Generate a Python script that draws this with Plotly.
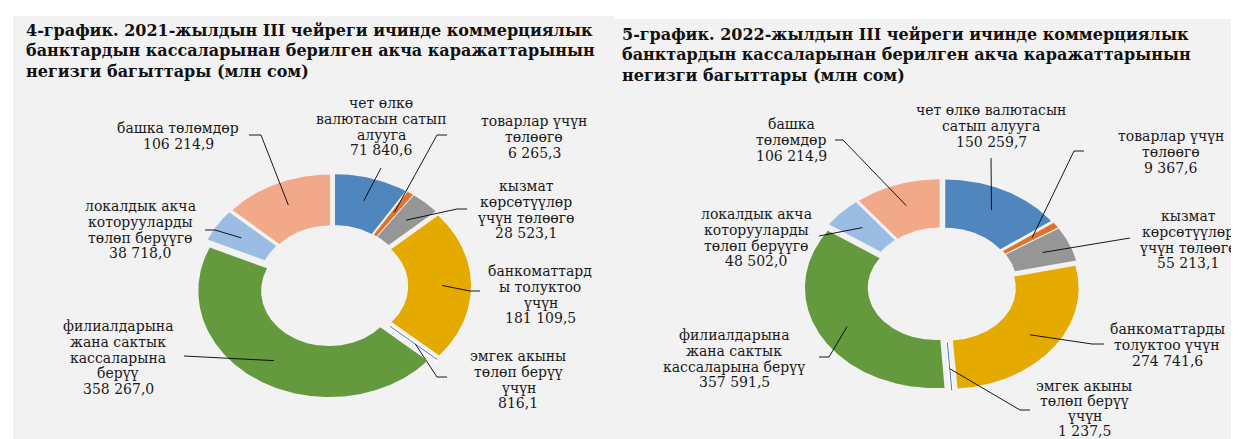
import numpy as np
import plotly.graph_objects as go

# ---------------- data ----------------
categories = [
    "чет өлкө валютасын сатып алууга",
    "товарлар үчүн төлөөгө",
    "кызмат көрсөтүүлөр үчүн төлөөгө",
    "банкоматтарды толуктоо үчүн",
    "эмгек акыны төлөп берүү үчүн",
    "филиалдарына жана сактык кассаларына берүү",
    "локалдык акча которууларды төлөп берүүгө",
    "башка төлөмдөр",
]
values_2021 = [71840.6, 6265.3, 28523.1, 181109.5, 816.1, 358267.0, 38718.0, 106214.9]
values_2022 = [150259.7, 9367.6, 55213.1, 274741.6, 1237.5, 357591.5, 48502.0, 106214.9]

label_lines_2021 = [
    ["чет өлкө", "валютасын сатып", "алууга"],
    ["товарлар үчүн", "төлөөгө"],
    ["кызмат", "көрсөтүүлөр", "үчүн төлөөгө"],
    ["банкоматтард", "ы толуктоо", "үчүн"],
    ["эмгек акыны", "төлөп берүү", "үчүн"],
    ["филиалдарына", "жана сактык", "кассаларына", "берүү"],
    ["локалдык акча", "которууларды", "төлөп берүүгө"],
    ["башка төлөмдөр"],
]
label_lines_2022 = [
    ["чет өлкө валютасын", "сатып алууга"],
    ["товарлар үчүн", "төлөөгө"],
    ["кызмат", "көрсөтүүлөр", "үчүн төлөөгө"],
    ["банкоматтарды", "толуктоо үчүн"],
    ["эмгек акыны", "төлөп берүү", "үчүн"],
    ["филиалдарына", "жана сактык", "кассаларына берүү"],
    ["локалдык акча", "которууларды", "төлөп берүүгө"],
    ["башка", "төлөмдөр"],
]
title_2021 = ["4-график. 2021-жылдын III чейреги ичинде коммерциялык",
              "банктардын кассаларынан берилген акча каражаттарынын",
              "негизги багыттары (млн сом)"]
title_2022 = ["5-график. 2022-жылдын III чейреги ичинде коммерциялык",
              "банктардын кассаларынан берилген акча каражаттарынын",
              "негизги багыттары (млн сом)"]

# ---------------- style / layout ----------------
W, H = 1239, 439
colors = ["#4F86BE", "#DD742D", "#969696", "#E5AA00", "#FFFFFF", "#64993E", "#9CBDE3", "#F1A98A"]
BG = "#F2F2F2"
FONT = "DejaVu Serif"
LBL_SIZE = 14
TITLE_SIZE = 16
HOLE = 0.52
EXPLODE = 0.055

charts = [
    dict(values=values_2021, lines=label_lines_2021, title=title_2021,
         cx=325, cy=278, rx=138, ry=112, title_x=16, title_y=22,
         label_pos=[(373, 95), (526, 113), (518, 178), (532, 263), (510, 348), (110, 318), (132, 198), (170, 120)],
         line_sp=[15.8, 15.8, 15.8, 15.8, 15.8, 15.8, 15.8, 15.8],
         leaders=[[(373, 160)], [(429, 127), (439, 127)], [(449, 201), (459, 201)], [(462, 283), (472, 283)],
                  [(429, 369), (439, 369)], [(176, 348)], [(207, 222), (197, 222)], [(253, 127), (241, 127)]]),
    dict(values=values_2022, lines=label_lines_2022, title=title_2022,
         cx=934, cy=277, rx=138, ry=106, title_x=612, title_y=26,
         label_pos=[(983, 102), (1163, 128), (1180, 208), (1159, 321), (1076, 378), (726, 327), (748, 206), (783, 116)],
         line_sp=[15.8, 15.8, 15.8, 15.8, 15.0, 15.8, 15.8, 15.8],
         leaders=[[(983, 150)], [(1066, 143), (1076, 143)], [(1122, 230)], [(1084, 336), (1096, 336)],
                  [(1012, 402), (1022, 402)], [(821, 349), (811, 349)], [(811, 228)], [(835, 132), (827, 132)]]),
]


def fmt(v):
    return f"{v:,.1f}".replace(",", " ").replace(".", ",")


fig = go.Figure()
annotations = []

for ch in charts:
    vals = np.array(ch["values"], dtype=float)
    frac = vals / vals.sum()
    ends = np.cumsum(frac) * 2 * np.pi
    starts = ends - frac * 2 * np.pi
    rx = ch["rx"] / (1 + EXPLODE)
    ry = ch["ry"] / (1 + EXPLODE)
    cx, cy = ch["cx"], ch["cy"]
    for i, (a0, a1) in enumerate(zip(starts, ends)):
        mid = (a0 + a1) / 2
        ex = EXPLODE * rx * np.sin(mid)
        ey = -EXPLODE * ry * np.cos(mid)
        n = max(3, int(np.degrees(a1 - a0) * 1.5))
        t = np.linspace(a0, a1, n)
        xo = cx + ex + rx * np.sin(t)
        yo = cy + ey - ry * np.cos(t)
        xi = cx + ex + HOLE * rx * np.sin(t[::-1])
        yi = cy + ey - HOLE * ry * np.cos(t[::-1])
        px = np.concatenate([xo, xi, xo[:1]])
        py = np.concatenate([yo, yi, yo[:1]])
        if i == 4:
            # tiny slice: white sliver with a thin blue stroke
            fig.add_trace(go.Scatter(x=px, y=py, mode="lines", fill="toself", fillcolor="#FFFFFF",
                                     line=dict(color="#FFFFFF", width=3), hoverinfo="skip", showlegend=False))
            fig.add_trace(go.Scatter(
                x=[cx + ex + HOLE * rx * np.sin(mid), cx + ex + rx * np.sin(mid)],
                y=[cy + ey - HOLE * ry * np.cos(mid), cy + ey - ry * np.cos(mid)],
                mode="lines", line=dict(color="#4A74C4", width=1), hoverinfo="skip", showlegend=False))
        else:
            fig.add_trace(go.Scatter(x=px, y=py, mode="lines", fill="toself", fillcolor=colors[i],
                                     line=dict(width=0), hoverinfo="skip", showlegend=False))
        # leader line
        f = 0.78
        sx = cx + ex + f * rx * np.sin(mid)
        sy = cy + ey - f * ry * np.cos(mid)
        lx = [sx] + [p[0] for p in ch["leaders"][i]]
        ly = [sy] + [p[1] for p in ch["leaders"][i]]
        fig.add_trace(go.Scatter(x=lx, y=ly, mode="lines", line=dict(color="#000000", width=0.9),
                                 hoverinfo="skip", showlegend=False))
        # label text
        lines = ch["lines"][i] + [fmt(vals[i])]
        x0, y0 = ch["label_pos"][i]
        sp = ch["line_sp"][i]
        for k, s in enumerate(lines):
            annotations.append(dict(x=x0, y=y0 + k * sp, xref="x", yref="y", text=s, showarrow=False,
                                    xanchor="center", yanchor="middle",
                                    font=dict(family=FONT, size=LBL_SIZE, color="#1A1A1A")))
    for k, s in enumerate(ch["title"]):
        annotations.append(dict(x=ch["title_x"], y=ch["title_y"] + k * 20.5, xref="x", yref="y",
                                text="<b>" + s + "</b>", showarrow=False, xanchor="left", yanchor="middle",
                                font=dict(family=FONT, size=TITLE_SIZE, color="#111111")))

shapes = [
    dict(type="rect", xref="x", yref="y", x0=5, x1=606, y0=8, y1=H, fillcolor=BG, line=dict(width=0), layer="below"),
    dict(type="rect", xref="x", yref="y", x0=606, x1=W, y0=11, y1=H, fillcolor=BG, line=dict(width=0), layer="below"),
]

fig.update_layout(
    width=W, height=H, margin=dict(l=0, r=0, t=0, b=0),
    paper_bgcolor="#FFFFFF", plot_bgcolor="rgba(0,0,0,0)",
    xaxis=dict(range=[0, W], visible=False, fixedrange=True),
    yaxis=dict(range=[H, 0], visible=False, fixedrange=True),
    annotations=annotations, shapes=shapes, showlegend=False,
)

fig.write_html("out.html")
